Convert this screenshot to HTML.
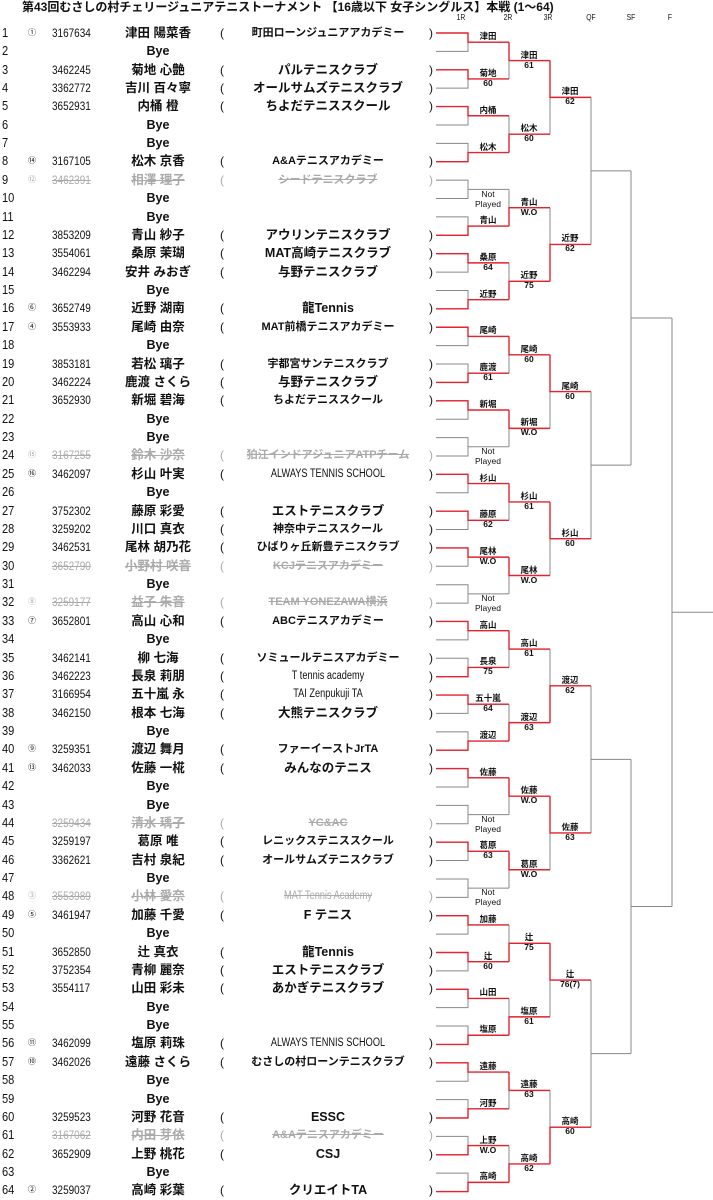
<!DOCTYPE html>
<html><head><meta charset="utf-8">
<style>
*{margin:0;padding:0;box-sizing:border-box}
body{width:713px;height:1200px;background:#fff;position:relative;overflow:hidden;font-family:"Liberation Sans","Noto Sans CJK JP",sans-serif;color:#111}
.title{position:absolute;left:22px;top:0;font-size:12px;font-weight:bold;line-height:15px;white-space:nowrap}
.rh{position:absolute;top:13px;font-size:8px;line-height:10px;width:20px;text-align:center;transform:scaleX(.85)}
#rows{position:absolute;left:0;top:23.8px;width:440px}
.r{position:relative;height:18.39px;line-height:18.39px;white-space:nowrap}
.r span{position:absolute;top:0}
.no{left:2px;font-size:13px;transform:scaleX(.85);transform-origin:left}
.sd{left:28px;font-size:8px}
.id{left:52px;font-size:12px;transform:scaleX(.83);transform-origin:left}
.nm{left:98px;width:120px;text-align:center;font-size:12.5px;font-weight:bold}
.p1{left:220px;font-size:12px}
.cl{left:236px;width:184px;text-align:center;font-size:11px;font-weight:bold}
.cl.b{font-size:12.5px}
.cl.l{font-size:11.5px;font-weight:normal;transform:scaleX(.8)}
.p2{left:429px;font-size:12px}
.g span{color:#aaa}
.g .no{color:#111}
.g .nm,.g .cl,.g .id{text-decoration:line-through}
.lb{position:absolute;width:50px;text-align:center;font-size:8.5px;line-height:9.5px;font-weight:bold;white-space:nowrap}
.lb.np{font-weight:normal}
svg{position:absolute;left:0;top:0}
</style></head><body>
<div class="title">第43回むさしの村チェリージュニアテニストーナメント 【16歳以下 女子シングルス】本戦 (1～64)</div>
<div class="rh" style="left:451px">1R</div>
<div class="rh" style="left:498px">2R</div>
<div class="rh" style="left:538px">3R</div>
<div class="rh" style="left:581px">QF</div>
<div class="rh" style="left:621px">SF</div>
<div class="rh" style="left:660px">F</div>

<div id="rows">
<div class="r"><span class="no">1</span><span class="sd">①</span><span class="id">3167634</span><span class="nm">津田 陽菜香</span><span class="p1">(</span><span class="cl">町田ローンジュニアアカデミー</span><span class="p2">)</span></div>
<div class="r"><span class="no">2</span><span class="nm">Bye</span></div>
<div class="r"><span class="no">3</span><span class="id">3462245</span><span class="nm">菊地 心艶</span><span class="p1">(</span><span class="cl b">パルテニスクラブ</span><span class="p2">)</span></div>
<div class="r"><span class="no">4</span><span class="id">3362772</span><span class="nm">吉川 百々寧</span><span class="p1">(</span><span class="cl b">オールサムズテニスクラブ</span><span class="p2">)</span></div>
<div class="r"><span class="no">5</span><span class="id">3652931</span><span class="nm">内桶 橙</span><span class="p1">(</span><span class="cl b">ちよだテニススクール</span><span class="p2">)</span></div>
<div class="r"><span class="no">6</span><span class="nm">Bye</span></div>
<div class="r"><span class="no">7</span><span class="nm">Bye</span></div>
<div class="r"><span class="no">8</span><span class="sd">⑭</span><span class="id">3167105</span><span class="nm">松木 京香</span><span class="p1">(</span><span class="cl">A&amp;Aテニスアカデミー</span><span class="p2">)</span></div>
<div class="r g"><span class="no">9</span><span class="sd">⑫</span><span class="id">3462391</span><span class="nm">相澤 理子</span><span class="p1">(</span><span class="cl">シードテニスクラブ</span><span class="p2">)</span></div>
<div class="r"><span class="no">10</span><span class="nm">Bye</span></div>
<div class="r"><span class="no">11</span><span class="nm">Bye</span></div>
<div class="r"><span class="no">12</span><span class="id">3853209</span><span class="nm">青山 紗子</span><span class="p1">(</span><span class="cl b">アウリンテニスクラブ</span><span class="p2">)</span></div>
<div class="r"><span class="no">13</span><span class="id">3554061</span><span class="nm">桑原 茉瑚</span><span class="p1">(</span><span class="cl b">MAT高崎テニスクラブ</span><span class="p2">)</span></div>
<div class="r"><span class="no">14</span><span class="id">3462294</span><span class="nm">安井 みおぎ</span><span class="p1">(</span><span class="cl b">与野テニスクラブ</span><span class="p2">)</span></div>
<div class="r"><span class="no">15</span><span class="nm">Bye</span></div>
<div class="r"><span class="no">16</span><span class="sd">⑥</span><span class="id">3652749</span><span class="nm">近野 湖南</span><span class="p1">(</span><span class="cl b">龍Tennis</span><span class="p2">)</span></div>
<div class="r"><span class="no">17</span><span class="sd">④</span><span class="id">3553933</span><span class="nm">尾崎 由奈</span><span class="p1">(</span><span class="cl">MAT前橋テニスアカデミー</span><span class="p2">)</span></div>
<div class="r"><span class="no">18</span><span class="nm">Bye</span></div>
<div class="r"><span class="no">19</span><span class="id">3853181</span><span class="nm">若松 璃子</span><span class="p1">(</span><span class="cl">宇都宮サンテニスクラブ</span><span class="p2">)</span></div>
<div class="r"><span class="no">20</span><span class="id">3462224</span><span class="nm">鹿渡 さくら</span><span class="p1">(</span><span class="cl b">与野テニスクラブ</span><span class="p2">)</span></div>
<div class="r"><span class="no">21</span><span class="id">3652930</span><span class="nm">新堀 碧海</span><span class="p1">(</span><span class="cl">ちよだテニススクール</span><span class="p2">)</span></div>
<div class="r"><span class="no">22</span><span class="nm">Bye</span></div>
<div class="r"><span class="no">23</span><span class="nm">Bye</span></div>
<div class="r g"><span class="no">24</span><span class="sd">⑮</span><span class="id">3167255</span><span class="nm">鈴木 沙奈</span><span class="p1">(</span><span class="cl">狛江インドアジュニアATPチーム</span><span class="p2">)</span></div>
<div class="r"><span class="no">25</span><span class="sd">⑯</span><span class="id">3462097</span><span class="nm">杉山 叶実</span><span class="p1">(</span><span class="cl l">ALWAYS TENNIS SCHOOL</span><span class="p2">)</span></div>
<div class="r"><span class="no">26</span><span class="nm">Bye</span></div>
<div class="r"><span class="no">27</span><span class="id">3752302</span><span class="nm">藤原 彩愛</span><span class="p1">(</span><span class="cl b">エストテニスクラブ</span><span class="p2">)</span></div>
<div class="r"><span class="no">28</span><span class="id">3259202</span><span class="nm">川口 真衣</span><span class="p1">(</span><span class="cl">神奈中テニススクール</span><span class="p2">)</span></div>
<div class="r"><span class="no">29</span><span class="id">3462531</span><span class="nm">尾林 胡乃花</span><span class="p1">(</span><span class="cl">ひばりヶ丘新豊テニスクラブ</span><span class="p2">)</span></div>
<div class="r g"><span class="no">30</span><span class="id">3652790</span><span class="nm">小野村 咲音</span><span class="p1">(</span><span class="cl">KCJテニスアカデミー</span><span class="p2">)</span></div>
<div class="r"><span class="no">31</span><span class="nm">Bye</span></div>
<div class="r g"><span class="no">32</span><span class="sd">⑧</span><span class="id">3259177</span><span class="nm">益子 朱音</span><span class="p1">(</span><span class="cl">TEAM YONEZAWA横浜</span><span class="p2">)</span></div>
<div class="r"><span class="no">33</span><span class="sd">⑦</span><span class="id">3652801</span><span class="nm">高山 心和</span><span class="p1">(</span><span class="cl">ABCテニスアカデミー</span><span class="p2">)</span></div>
<div class="r"><span class="no">34</span><span class="nm">Bye</span></div>
<div class="r"><span class="no">35</span><span class="id">3462141</span><span class="nm">柳 七海</span><span class="p1">(</span><span class="cl">ソミュールテニスアカデミー</span><span class="p2">)</span></div>
<div class="r"><span class="no">36</span><span class="id">3462223</span><span class="nm">長泉 莉朋</span><span class="p1">(</span><span class="cl l">T tennis academy</span><span class="p2">)</span></div>
<div class="r"><span class="no">37</span><span class="id">3166954</span><span class="nm">五十嵐 永</span><span class="p1">(</span><span class="cl l">TAI Zenpukuji TA</span><span class="p2">)</span></div>
<div class="r"><span class="no">38</span><span class="id">3462150</span><span class="nm">根本 七海</span><span class="p1">(</span><span class="cl b">大熊テニスクラブ</span><span class="p2">)</span></div>
<div class="r"><span class="no">39</span><span class="nm">Bye</span></div>
<div class="r"><span class="no">40</span><span class="sd">⑨</span><span class="id">3259351</span><span class="nm">渡辺 舞月</span><span class="p1">(</span><span class="cl">ファーイーストJrTA</span><span class="p2">)</span></div>
<div class="r"><span class="no">41</span><span class="sd">⑬</span><span class="id">3462033</span><span class="nm">佐藤 一椛</span><span class="p1">(</span><span class="cl b">みんなのテニス</span><span class="p2">)</span></div>
<div class="r"><span class="no">42</span><span class="nm">Bye</span></div>
<div class="r"><span class="no">43</span><span class="nm">Bye</span></div>
<div class="r g"><span class="no">44</span><span class="id">3259434</span><span class="nm">清水 瑀子</span><span class="p1">(</span><span class="cl">YC&amp;AC</span><span class="p2">)</span></div>
<div class="r"><span class="no">45</span><span class="id">3259197</span><span class="nm">葛原 唯</span><span class="p1">(</span><span class="cl">レニックステニススクール</span><span class="p2">)</span></div>
<div class="r"><span class="no">46</span><span class="id">3362621</span><span class="nm">吉村 泉紀</span><span class="p1">(</span><span class="cl">オールサムズテニスクラブ</span><span class="p2">)</span></div>
<div class="r"><span class="no">47</span><span class="nm">Bye</span></div>
<div class="r g"><span class="no">48</span><span class="sd">③</span><span class="id">3553989</span><span class="nm">小林 愛奈</span><span class="p1">(</span><span class="cl l">MAT Tennis Academy</span><span class="p2">)</span></div>
<div class="r"><span class="no">49</span><span class="sd">⑤</span><span class="id">3461947</span><span class="nm">加藤 千愛</span><span class="p1">(</span><span class="cl b">F テニス</span><span class="p2">)</span></div>
<div class="r"><span class="no">50</span><span class="nm">Bye</span></div>
<div class="r"><span class="no">51</span><span class="id">3652850</span><span class="nm">辻 真衣</span><span class="p1">(</span><span class="cl b">龍Tennis</span><span class="p2">)</span></div>
<div class="r"><span class="no">52</span><span class="id">3752354</span><span class="nm">青柳 麗奈</span><span class="p1">(</span><span class="cl b">エストテニスクラブ</span><span class="p2">)</span></div>
<div class="r"><span class="no">53</span><span class="id">3554117</span><span class="nm">山田 彩未</span><span class="p1">(</span><span class="cl b">あかぎテニスクラブ</span><span class="p2">)</span></div>
<div class="r"><span class="no">54</span><span class="nm">Bye</span></div>
<div class="r"><span class="no">55</span><span class="nm">Bye</span></div>
<div class="r"><span class="no">56</span><span class="sd">⑪</span><span class="id">3462099</span><span class="nm">塩原 莉珠</span><span class="p1">(</span><span class="cl l">ALWAYS TENNIS SCHOOL</span><span class="p2">)</span></div>
<div class="r"><span class="no">57</span><span class="sd">⑩</span><span class="id">3462026</span><span class="nm">遠藤 さくら</span><span class="p1">(</span><span class="cl">むさしの村ローンテニスクラブ</span><span class="p2">)</span></div>
<div class="r"><span class="no">58</span><span class="nm">Bye</span></div>
<div class="r"><span class="no">59</span><span class="nm">Bye</span></div>
<div class="r"><span class="no">60</span><span class="id">3259523</span><span class="nm">河野 花音</span><span class="p1">(</span><span class="cl b">ESSC</span><span class="p2">)</span></div>
<div class="r g"><span class="no">61</span><span class="id">3167062</span><span class="nm">内田 芽依</span><span class="p1">(</span><span class="cl">A&amp;Aテニスアカデミー</span><span class="p2">)</span></div>
<div class="r"><span class="no">62</span><span class="id">3652909</span><span class="nm">上野 桃花</span><span class="p1">(</span><span class="cl b">CSJ</span><span class="p2">)</span></div>
<div class="r"><span class="no">63</span><span class="nm">Bye</span></div>
<div class="r"><span class="no">64</span><span class="sd">②</span><span class="id">3259037</span><span class="nm">高崎 彩葉</span><span class="p1">(</span><span class="cl b">クリエイトTA</span><span class="p2">)</span></div>
</div>

<svg width="713" height="1200" viewBox="0 0 713 1200">
<g transform="translate(0,33) scale(1,18.39)" fill="none">
<path stroke="#888" stroke-width="1" vector-effect="non-scaling-stroke" d="
M436 0H468V1H436M468 .5H509 M436 2H468V3H436M468 2.5H509 M436 4H468V5H436M468 4.5H509 M436 6H468V7H436M468 6.5H509
M436 8H468V9H436M468 8.5H509 M436 10H468V11H436M468 10.5H509 M436 12H468V13H436M468 12.5H509 M436 14H468V15H436M468 14.5H509
M436 16H468V17H436M468 16.5H509 M436 18H468V19H436M468 18.5H509 M436 20H468V21H436M468 20.5H509 M436 22H468V23H436M468 22.5H509
M436 24H468V25H436M468 24.5H509 M436 26H468V27H436M468 26.5H509 M436 28H468V29H436M468 28.5H509 M436 30H468V31H436M468 30.5H509
M436 32H468V33H436M468 32.5H509 M436 34H468V35H436M468 34.5H509 M436 36H468V37H436M468 36.5H509 M436 38H468V39H436M468 38.5H509
M436 40H468V41H436M468 40.5H509 M436 42H468V43H436M468 42.5H509 M436 44H468V45H436M468 44.5H509 M436 46H468V47H436M468 46.5H509
M436 48H468V49H436M468 48.5H509 M436 50H468V51H436M468 50.5H509 M436 52H468V53H436M468 52.5H509 M436 54H468V55H436M468 54.5H509
M436 56H468V57H436M468 56.5H509 M436 58H468V59H436M468 58.5H509 M436 60H468V61H436M468 60.5H509 M436 62H468V63H436M468 62.5H509
M509 .5V2.5M509 1.5H550 M509 4.5V6.5M509 5.5H550 M509 8.5V10.5M509 9.5H550 M509 12.5V14.5M509 13.5H550
M509 16.5V18.5M509 17.5H550 M509 20.5V22.5M509 21.5H550 M509 24.5V26.5M509 25.5H550 M509 28.5V30.5M509 29.5H550
M509 32.5V34.5M509 33.5H550 M509 36.5V38.5M509 37.5H550 M509 40.5V42.5M509 41.5H550 M509 44.5V46.5M509 45.5H550
M509 48.5V50.5M509 49.5H550 M509 52.5V54.5M509 53.5H550 M509 56.5V58.5M509 57.5H550 M509 60.5V62.5M509 61.5H550
M550 1.5V5.5M550 3.5H591 M550 9.5V13.5M550 11.5H591 M550 17.5V21.5M550 19.5H591 M550 25.5V29.5M550 27.5H591
M550 33.5V37.5M550 35.5H591 M550 41.5V45.5M550 43.5H591 M550 49.5V53.5M550 51.5H591 M550 57.5V61.5M550 59.5H591
M591 3.5V11.5M591 7.5H631 M591 19.5V27.5M591 23.5H631 M591 35.5V43.5M591 39.5H631 M591 51.5V59.5M591 55.5H631
M631 7.5V23.5M631 15.5H672 M631 39.5V55.5M631 47.5H672
M672 15.5V47.5M672 31.5H713"/>
<path stroke="#e3232f" stroke-width="1.4" vector-effect="non-scaling-stroke" d="
M436 0H468V.5H509 M436 2H468V2.5H509 M436 4H468V4.5H509 M436 7H468V6.5H509
M436 11H468V10.5H509 M436 12H468V12.5H509 M436 15H468V14.5H509
M436 16H468V16.5H509 M436 19H468V18.5H509 M436 20H468V20.5H509
M436 24H468V24.5H509 M436 26H468V26.5H509 M436 28H468V28.5H509
M436 32H468V32.5H509 M436 35H468V34.5H509 M436 36H468V36.5H509 M436 39H468V38.5H509
M436 40H468V40.5H509 M436 44H468V44.5H509
M436 48H468V48.5H509 M436 50H468V50.5H509 M436 52H468V52.5H509 M436 55H468V54.5H509
M436 56H468V56.5H509 M436 59H468V58.5H509 M436 61H468V60.5H509 M436 63H468V62.5H509
M509 .5V1.5H550 M509 6.5V5.5H550 M509 10.5V9.5H550 M509 14.5V13.5H550
M509 16.5V17.5H550 M509 20.5V21.5H550 M509 24.5V25.5H550 M509 28.5V29.5H550
M509 32.5V33.5H550 M509 38.5V37.5H550 M509 40.5V41.5H550 M509 44.5V45.5H550
M509 50.5V49.5H550 M509 54.5V53.5H550 M509 56.5V57.5H550 M509 62.5V61.5H550
M550 1.5V3.5H591 M550 13.5V11.5H591 M550 17.5V19.5H591 M550 25.5V27.5H591
M550 37.5V35.5H591 M550 41.5V43.5H591 M550 49.5V51.5H591 M550 61.5V59.5H591"/>
</g>
</svg>

<div class="lb" style="left:463px;top:32px">津田</div>
<div class="lb" style="left:463px;top:69px">菊地<br>60</div>
<div class="lb" style="left:463px;top:106px">内桶</div>
<div class="lb" style="left:463px;top:143px">松木</div>
<div class="lb np" style="left:463px;top:190px">Not<br>Played</div>
<div class="lb" style="left:463px;top:216px">青山</div>
<div class="lb" style="left:463px;top:253px">桑原<br>64</div>
<div class="lb" style="left:463px;top:290px">近野</div>
<div class="lb" style="left:463px;top:326px">尾崎</div>
<div class="lb" style="left:463px;top:363px">鹿渡<br>61</div>
<div class="lb" style="left:463px;top:400px">新堀</div>
<div class="lb np" style="left:463px;top:447px">Not<br>Played</div>
<div class="lb" style="left:463px;top:474px">杉山</div>
<div class="lb" style="left:463px;top:510px">藤原<br>62</div>
<div class="lb" style="left:463px;top:547px">尾林<br>W.O</div>
<div class="lb np" style="left:463px;top:594px">Not<br>Played</div>
<div class="lb" style="left:463px;top:621px">高山</div>
<div class="lb" style="left:463px;top:657px">長泉<br>75</div>
<div class="lb" style="left:463px;top:694px">五十嵐<br>64</div>
<div class="lb" style="left:463px;top:731px">渡辺</div>
<div class="lb" style="left:463px;top:768px">佐藤</div>
<div class="lb np" style="left:463px;top:815px">Not<br>Played</div>
<div class="lb" style="left:463px;top:841px">葛原<br>63</div>
<div class="lb np" style="left:463px;top:888px">Not<br>Played</div>
<div class="lb" style="left:463px;top:915px">加藤</div>
<div class="lb" style="left:463px;top:952px">辻<br>60</div>
<div class="lb" style="left:463px;top:988px">山田</div>
<div class="lb" style="left:463px;top:1025px">塩原</div>
<div class="lb" style="left:463px;top:1062px">遠藤</div>
<div class="lb" style="left:463px;top:1099px">河野</div>
<div class="lb" style="left:463px;top:1136px">上野<br>W.O</div>
<div class="lb" style="left:463px;top:1172px">高崎</div>
<div class="lb" style="left:504px;top:51px">津田<br>61</div>
<div class="lb" style="left:504px;top:124px">松木<br>60</div>
<div class="lb" style="left:504px;top:198px">青山<br>W.O</div>
<div class="lb" style="left:504px;top:271px">近野<br>75</div>
<div class="lb" style="left:504px;top:345px">尾崎<br>60</div>
<div class="lb" style="left:504px;top:418px">新堀<br>W.O</div>
<div class="lb" style="left:504px;top:492px">杉山<br>61</div>
<div class="lb" style="left:504px;top:566px">尾林<br>W.O</div>
<div class="lb" style="left:504px;top:639px">高山<br>61</div>
<div class="lb" style="left:504px;top:713px">渡辺<br>63</div>
<div class="lb" style="left:504px;top:786px">佐藤<br>W.O</div>
<div class="lb" style="left:504px;top:860px">葛原<br>W.O</div>
<div class="lb" style="left:504px;top:933px">辻<br>75</div>
<div class="lb" style="left:504px;top:1007px">塩原<br>61</div>
<div class="lb" style="left:504px;top:1080px">遠藤<br>63</div>
<div class="lb" style="left:504px;top:1154px">高崎<br>62</div>
<div class="lb" style="left:545px;top:87px">津田<br>62</div>
<div class="lb" style="left:545px;top:234px">近野<br>62</div>
<div class="lb" style="left:545px;top:382px">尾崎<br>60</div>
<div class="lb" style="left:545px;top:529px">杉山<br>60</div>
<div class="lb" style="left:545px;top:676px">渡辺<br>62</div>
<div class="lb" style="left:545px;top:823px">佐藤<br>63</div>
<div class="lb" style="left:545px;top:970px">辻<br>76(7)</div>
<div class="lb" style="left:545px;top:1117px">高崎<br>60</div>
</body></html>
